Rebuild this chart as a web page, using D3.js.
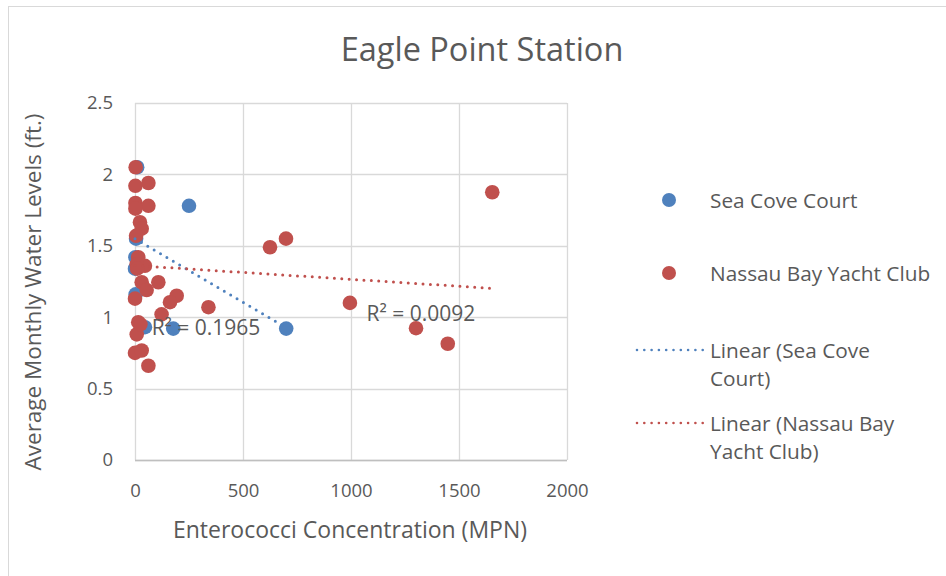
<!DOCTYPE html>
<html><head><meta charset="utf-8">
<script src="https://cdn.jsdelivr.net/npm/d3@7"></script>
<style>
html,body{margin:0;padding:0;background:#fff;}
svg{display:block;}
text{font-family:"Open Sans",Lato,sans-serif;fill:#595959;}
</style></head>
<body><svg id="c" width="946" height="576"></svg>
<script>
// ---- data ----
const title = "Eagle Point Station";
const xTitle = "Enterococci Concentration (MPN)";
const yTitle = "Average Monthly Water Levels (ft.)";
const seriesNames = ["Sea Cove Court", "Nassau Bay Yacht Club"];
const xTicks = [0, 500, 1000, 1500, 2000];
const yTicks = [0, 0.5, 1, 1.5, 2, 2.5];

const seaCoveX = [10, 250, 5, 2, 0, 3, 46, 177, 700];
const seaCoveY = [2.05, 1.78, 1.55, 1.42, 1.34, 1.16, 0.93, 0.92, 0.92];

const nassauX = [3, 2, 62, 2, 62, 2, 23, 31, 5, 15, 46, 8, 31, 108, 54, 0, 193, 162, 123, 15, 8, 0, 31, 62, 340, 625, 699, 995, 1301, 1448, 1654, 10, 25];
const nassauY = [2.05, 1.92, 1.94, 1.80, 1.78, 1.76, 1.665, 1.62, 1.57, 1.42, 1.36, 1.37, 1.245, 1.245, 1.19, 1.13, 1.15, 1.105, 1.02, 0.965, 0.88, 0.75, 0.767, 0.66, 1.07, 1.49, 1.55, 1.10, 0.923, 0.814, 1.875, 1.34, 0.95];

// trendlines: [intercept, slope, xFrom, xTo]
const trendNames = ["Linear (Sea Cove Court)", "Linear (Nassau Bay Yacht Club)"];
const seaCoveTrend = [1.55, -0.00089, 0, 700];
const nassauTrend = [1.362, -0.0000967, 0, 1654];
const r2Labels = ["R² = 0.1965", "R² = 0.0092"];
const r2Pos = [[77, 0.875], [1072, 0.97]];

const colors = ["#4f81bd", "#c0504d"];

// ---- drawing ----
const FONT = "'Open Sans', Lato, sans-serif";
const svg = d3.select("#c");
svg.append("rect").attr("x", 8.5).attr("y", 6.5).attr("width", 960).attr("height", 600)
  .attr("fill", "#fff").attr("stroke", "#d9d9d9").attr("stroke-width", 1);

const x = d3.scaleLinear().domain([0, 2000]).range([135, 567]);
const y = d3.scaleLinear().domain([0, 2.5]).range([460, 103]);

// gridlines
const g = svg.append("g");
g.selectAll(".hg").data(yTicks).join("line")
  .attr("x1", x(0)).attr("x2", x(2000))
  .attr("y1", d => Math.round(y(d)) + 0.5).attr("y2", d => Math.round(y(d)) + 0.5)
  .attr("stroke", "#d9d9d9").attr("stroke-width", 1.3);
g.selectAll(".vg").data(xTicks).join("line")
  .attr("y1", y(0)).attr("y2", y(2.5))
  .attr("x1", d => Math.round(x(d)) + 0.5).attr("x2", d => Math.round(x(d)) + 0.5)
  .attr("stroke", "#d9d9d9").attr("stroke-width", 1.3);
g.append("line").attr("x1", x(0)).attr("x2", x(2000)).attr("y1", Math.round(y(0)) + 0.5).attr("y2", Math.round(y(0)) + 0.5)
  .attr("stroke", "#bfbfbf").attr("stroke-width", 1.3);

// axes via d3 axes (labels only)
const xAxis = svg.append("g").attr("transform", `translate(0,${y(0)})`)
  .call(d3.axisBottom(x).tickValues(xTicks).tickSize(0).tickPadding(24).tickFormat(d3.format("d")));
const yAxis = svg.append("g").attr("transform", `translate(${x(0)},0)`)
  .call(d3.axisLeft(y).tickValues(yTicks).tickSize(0).tickPadding(22).tickFormat(d => String(d)));
[xAxis, yAxis].forEach(a => {
  a.select(".domain").remove();
  a.selectAll("text").style("font-family", FONT).style("font-size", "18.5px").attr("fill", "#595959");
});

// points
function pts(xs, ys) { return xs.map((v, i) => [v, ys[i]]); }
const seriesData = [pts(seaCoveX, seaCoveY), pts(nassauX, nassauY)];
seriesData.forEach((data, si) => {
  svg.append("g").selectAll("circle").data(data).join("circle")
    .attr("cx", d => x(d[0])).attr("cy", d => y(d[1])).attr("r", 7.3)
    .attr("fill", colors[si]);
});

// trendlines
[seaCoveTrend, nassauTrend].forEach((t, si) => {
  const line = d3.line().x(d => x(d)).y(d => y(t[0] + t[1] * d));
  svg.append("path").attr("d", line([t[2], t[3]]))
    .attr("fill", "none").attr("stroke", colors[si]).attr("stroke-width", 3)
    .attr("stroke-linecap", "round").attr("stroke-dasharray", "0 7.4");
});

// R² labels
r2Labels.forEach((lab, i) => {
  svg.append("text").attr("x", x(r2Pos[i][0])).attr("y", y(r2Pos[i][1]))
    .attr("font-size", 21).text(lab);
});

// titles
svg.append("text").attr("x", 482).attr("y", 61).attr("text-anchor", "middle")
  .attr("font-size", 32.5).text(title);
svg.append("text").attr("x", 350).attr("y", 538).attr("text-anchor", "middle")
  .attr("font-size", 23).text(xTitle);
svg.append("text").attr("transform", "translate(41,292) rotate(-90)").attr("text-anchor", "middle")
  .attr("font-size", 22.5).text(yTitle);

// legend
const leg = svg.append("g");
seriesNames.forEach((n, i) => {
  const cy = 200 + i * 73;
  leg.append("circle").attr("cx", 669).attr("cy", cy).attr("r", 7).attr("fill", colors[i]);
  leg.append("text").attr("x", 710).attr("y", cy + 7.5).attr("font-size", 20.8).text(n);
});
const trendLegendLines = [["Linear (Sea Cove", "Court)"], ["Linear (Nassau Bay", "Yacht Club)"]];
trendLegendLines.forEach((lines, i) => {
  const cy = 350 + i * 73;
  leg.append("line").attr("x1", 637).attr("x2", 703).attr("y1", cy).attr("y2", cy)
    .attr("stroke", colors[i]).attr("stroke-width", 2.6).attr("stroke-linecap", "round").attr("stroke-dasharray", "0 7.3");
  lines.forEach((l, k) => {
    leg.append("text").attr("x", 710).attr("y", cy + 7.5 + k * 28).attr("font-size", 20.8).text(l);
  });
});
</script></body></html>
